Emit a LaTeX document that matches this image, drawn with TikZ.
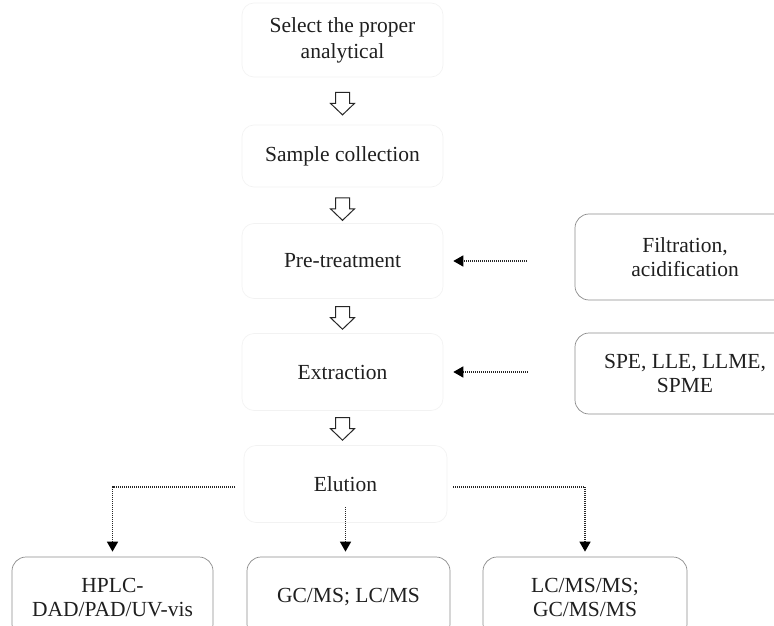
\documentclass[tikz,border=0pt]{standalone}
\usepackage{fontspec}
\setmainfont{Liberation Serif}
\usetikzlibrary{arrows.meta}
\tikzset{
  mainbox/.style={draw=black!5, line width=0.6bp, rounded corners=12bp, align=center,
    minimum width=201bp, text=black!88, font=\fontsize{21.5bp}{26bp}\selectfont},
  sidebox/.style={draw=black!45, line width=0.7bp, rounded corners=14bp, align=center,
    text=black!88, font=\fontsize{21.5bp}{24.5bp}\selectfont},
  darr/.style={line width=1.5bp, dash pattern=on 1bp off 1bp, black!85,
    -{Triangle[width=11bp,length=10bp,black]}},
  hollow/.style={draw=black!85, line width=1bp, fill=white, line join=miter}
}
\newcommand{\hollowarrowat}[1]{%
  \draw[hollow, shift={#1}] (-7,-11) -- (7,-11) -- (7,0) -- (12,0) -- (0,11.5)
    -- (-12,0) -- (-7,0) -- cycle;}
\begin{document}
\begin{tikzpicture}[x=1bp,y=-1bp]
\useasboundingbox (0,0) rectangle (774,626);
\fill[white] (0,0) rectangle (774,626);
\clip (0,0) rectangle (774,626);
% main column
\node[mainbox, minimum height=74bp] (sel) at (342.5,40) {Select the proper\\analytical};
\node[mainbox, minimum height=62bp] (samp) at (342.5,156) {Sample collection};
\node[mainbox, minimum height=75bp] (pre) at (342.5,261) {Pre-treatment};
\node[mainbox, minimum height=77bp] (ext) at (342.5,372) {Extraction};
\node[mainbox, minimum height=77bp, minimum width=203bp] (elu) at (345.5,484) {Elution};
% side boxes
\node[sidebox, minimum width=220bp, minimum height=86bp] (filt) at (685,257) {Filtration,\\acidification};
\node[sidebox, minimum width=220bp, minimum height=81bp] (spe) at (685,373.5) {SPE, LLE, LLME,\\SPME};
% bottom boxes
\node[sidebox, minimum width=201bp, minimum height=81bp] (hplc) at (112.5,597.5) {HPLC-\\DAD/PAD/UV-vis};
\node[sidebox, minimum width=203bp, minimum height=81bp] (gcms) at (348.5,597.5) {GC/MS; LC/MS};
\node[sidebox, minimum width=204bp, minimum height=81bp] (lcms) at (585,597.5) {LC/MS/MS;\\GC/MS/MS};
% hollow arrows
\path (sel.south) -- (samp.north) coordinate[pos=0.55] (h1);
\path (samp.south) -- (pre.north) coordinate[pos=0.6] (h2);
\path (pre.south) -- (ext.north) coordinate[pos=0.55] (h3);
\path (ext.south) -- ([xshift=-3bp]elu.north) coordinate[pos=0.52] (h4);
\hollowarrowat{(h1)}
\hollowarrowat{(h2)}
\hollowarrowat{(h3)}
\hollowarrowat{(h4)}
% side dotted arrows
\draw[darr] ([xshift=-48bp]filt.west |- pre.east) -- ([xshift=10bp]pre.east);
\draw[darr] ([xshift=-47bp]spe.west |- ext.east) -- ([xshift=10bp]ext.east);
% elution branches
\draw[darr] ([shift={(-9bp,-3bp)}]elu.west) -| ([yshift=5bp]hplc.north);
\draw[darr] ([yshift=-23bp]elu.center) -- ([yshift=5bp]gcms.north -| elu.center);
\draw[darr] ([shift={(6bp,-3bp)}]elu.east) -| ([yshift=5bp]lcms.north);
\end{tikzpicture}
\end{document}
